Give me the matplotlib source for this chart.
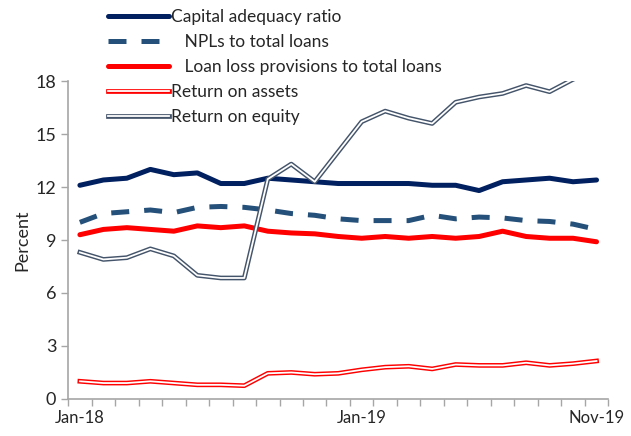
import matplotlib
matplotlib.use("Agg")
import matplotlib.pyplot as plt
import matplotlib.patheffects as pe
import numpy as np

# monthly data, Jan-18 .. Nov-19
months = ["Jan-18", "Feb-18", "Mar-18", "Apr-18", "May-18", "Jun-18", "Jul-18", "Aug-18",
          "Sep-18", "Oct-18", "Nov-18", "Dec-18", "Jan-19", "Feb-19", "Mar-19", "Apr-19",
          "May-19", "Jun-19", "Jul-19", "Aug-19", "Sep-19", "Oct-19", "Nov-19"]
car = [12.1, 12.4, 12.5, 13.0, 12.7, 12.8, 12.2, 12.2, 12.5, 12.4, 12.3, 12.2,
       12.2, 12.2, 12.2, 12.1, 12.1, 11.8, 12.3, 12.4, 12.5, 12.3, 12.4]
npl = [10.0, 10.5, 10.6, 10.7, 10.55, 10.85, 10.9, 10.85, 10.7, 10.5, 10.4, 10.2,
       10.1, 10.1, 10.1, 10.4, 10.2, 10.3, 10.25, 10.1, 10.05, 9.9, 9.6]
llp = [9.3, 9.6, 9.7, 9.6, 9.5, 9.8, 9.7, 9.8, 9.5, 9.4, 9.35, 9.2,
       9.1, 9.2, 9.1, 9.2, 9.1, 9.2, 9.5, 9.2, 9.1, 9.1, 8.9]
roa = [1.0, 0.9, 0.9, 1.0, 0.9, 0.8, 0.8, 0.75, 1.45, 1.5, 1.4, 1.45,
       1.65, 1.8, 1.85, 1.7, 1.95, 1.9, 1.9, 2.05, 1.9, 2.0, 2.15]
roe = [8.3, 7.9, 8.0, 8.5, 8.1, 7.0, 6.85, 6.85, 12.45, 13.3, 12.3, 14.0,
       15.7, 16.3, 15.9, 15.6, 16.8, 17.1, 17.3, 17.75, 17.4, 18.1, 18.6]
tick_labels = {0: "Jan-18", 12: "Jan-19", 22: "Nov-19"}

plt.rcParams["font.family"] = ["Lato", "DejaVu Sans"]

fig = plt.figure(figsize=(6.31, 4.36), dpi=100)
ax = fig.add_axes([0.108, 0.085, 0.856, 0.729])

x = np.arange(len(months))

ax.plot(x, car, color="#002060", lw=3.6, solid_capstyle="round",
        label="Capital adequacy ratio")
ax.plot(x, npl, color="#24507A", lw=3.6, dashes=(3.6, 3.0),
        label="   NPLs to total loans")
ax.plot(x, llp, color="#FF0000", lw=3.6, solid_capstyle="round",
        label="   Loan loss provisions to total loans")
ax.plot(x, roa, color="white", lw=1.3,
        path_effects=[pe.Stroke(linewidth=3.4, foreground="#FF0000"), pe.Normal()],
        label="Return on assets")
ax.plot(x, roe, color="white", lw=1.3,
        path_effects=[pe.Stroke(linewidth=3.4, foreground="#44546A"), pe.Normal()],
        label="Return on equity")

ax.set_ylim(0, 18)
ax.set_yticks(np.arange(0, 19, 3))
ax.set_xlim(-0.5, len(months) - 0.5)
ax.set_xticks(list(tick_labels.keys()))
ax.set_xticklabels(list(tick_labels.values()))
ax.set_xticks(np.arange(-0.5, len(months), 1.0), minor=True)
ax.tick_params(axis="x", which="major", length=0, pad=8, labelsize=12, colors="#262626")
ax.tick_params(axis="x", which="minor", length=5, color="#A6A6A6", width=1)
ax.tick_params(axis="y", length=5, color="#A6A6A6", width=1, labelsize=13, colors="#262626")
for s in ["top", "right"]:
    ax.spines[s].set_visible(False)
for s in ["left", "bottom"]:
    ax.spines[s].set_color("#A6A6A6")
    ax.spines[s].set_linewidth(1.2)
ax.set_ylabel("Percent", fontsize=13, color="#262626", labelpad=4)

leg = ax.legend(loc="upper left", bbox_to_anchor=(108 / 631, 1 - 9 / 436),
                bbox_transform=fig.transFigure, frameon=False, fontsize=12.5,
                handlelength=3.5, handletextpad=0.15, labelspacing=0.52,
                borderpad=0, borderaxespad=0)
for t in leg.get_texts():
    t.set_color("#262626")

fig.savefig("out.png", dpi=100)
